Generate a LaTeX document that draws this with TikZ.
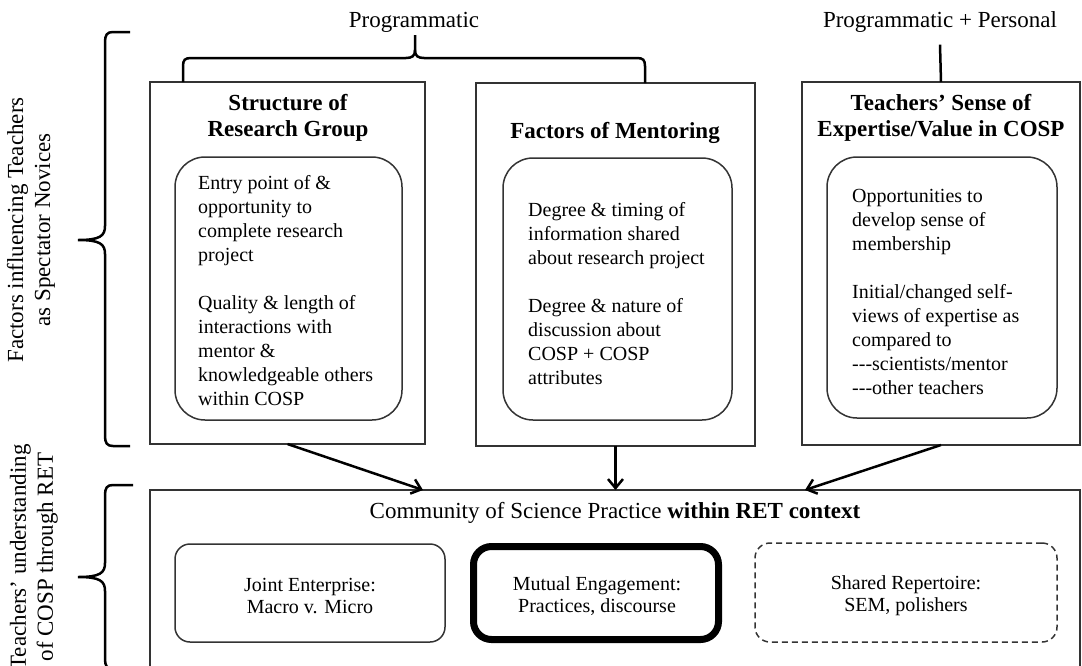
\documentclass[tikz,border=0pt]{standalone}
\usepackage{fontspec}
\setmainfont{Liberation Serif}
\usetikzlibrary{arrows.meta}
\newcommand\hy{\mbox{-}}
\begin{document}
\begin{tikzpicture}[x=1pt,y=-1pt,
  panel/.style={draw=black!80, line width=1.5pt, rectangle, inner sep=0pt, outer sep=0pt},
  listbox/.style={draw=black!80, line width=1.5pt, rectangle, rounded corners=30pt, inner sep=0pt, outer sep=0pt},
  cospbox/.style={draw=black!80, line width=1.5pt, rectangle, rounded corners=15pt, inner sep=0pt},
  cosptext/.style={align=center, inner sep=0pt, font=\fontsize{20}{22}\selectfont},
  ptitle/.style={align=center, inner sep=0pt, font=\bfseries\fontsize{23}{26}\selectfont},
  plist/.style={align=left, anchor=north west, inner sep=0pt, font=\fontsize{20}{24}\selectfont},
  side/.style={rotate=90, align=center, inner sep=0pt, font=\fontsize{23}{27}\selectfont},
  toplabel/.style={inner sep=0pt, font=\fontsize{23}{26}\selectfont},
  brace/.style={draw=black, line width=2.5pt},
  arr/.style={draw=black, line width=2.5pt, -{Straight Barb[length=9pt,width=15pt]}}
]
\useasboundingbox (0,0) rectangle (1082,665);
\clip (0,0) rectangle (1082,665);

% --- three factor panels ---
\node[panel, minimum width=275pt, minimum height=362pt] (b1) at (287.5,263) {};
\node[panel, minimum width=279pt, minimum height=363pt] (b2) at (615.5,264.5) {};
\node[panel, minimum width=278pt, minimum height=363pt] (b3) at (941,263.5) {};

\node[ptitle] (t1) at (288,118) {Structure of\\Research Group};
\node[ptitle] (t2) at (615,133) {Factors of Mentoring};
\node[ptitle] (t3) at (941,118) {Teachers’ Sense of\\Expertise/Value in COSP};

\node[listbox, minimum width=227pt, minimum height=263pt] (l1) at (288.5,288.5) {};
\node[listbox, minimum width=229pt, minimum height=262pt] (l2) at (617.5,289) {};
\node[listbox, minimum width=230pt, minimum height=261pt] (l3) at (942,287.5) {};

\node[plist] (p1) at (198,175) {Entry point of \&\\opportunity to\\complete research\\project\\[24pt]Quality \& length of\\interactions with\\mentor \&\\knowledgeable others\\within COSP};
\node[plist] (p2) at (528,202) {Degree \& timing of\\information shared\\about research project\\[24pt]Degree \& nature of\\discussion about\\COSP + COSP\\attributes};
\node[plist] (p3) at (852,189) {Opportunities to\\develop sense of\\membership\\[24pt]Initial/changed self-\\views of expertise as\\compared to\\\hy\hy\hy scientists/mentor\\\hy\hy\hy other teachers};

% --- labels above the panels ---
\node[toplabel] (prog) at (414,22) {Programmatic};
\node[toplabel] (pp) at (940,22) {Programmatic + Personal};

\coordinate (brL) at ([xshift=33pt]b1.north west);
\coordinate (brR) at ([xshift=169pt]b2.north west);
\coordinate (brM) at (415,35);
\draw[brace] (brL) -- (183,66) .. controls (183,60) and (185,58) .. (191,58)
  -- (406,58) .. controls (412,58) and (415,56) .. (415,50) -- (brM);
\draw[brace] (415,50) .. controls (415,56) and (418,58) .. (424,58)
  -- (637,58) .. controls (643,58) and (645,60) .. (645,66) -- (brR);
\draw[brace] ([yshift=-12pt]pp.south) -- (b3.north);

% --- side braces and their captions ---
\draw[brace] (130,32) -- (113,32) .. controls (107,32) and (105,35) .. (105,42)
  -- (105,226) .. controls (105,236) and (100,240) .. (78,240)
  .. controls (100,240) and (105,244) .. (105,254)
  -- (105,436) .. controls (105,443) and (107,446) .. (113,446) -- (130,446);
\draw[brace] (133,485) -- (113,485) .. controls (107,485) and (105,488) .. (105,495)
  -- (105,563) .. controls (105,573) and (100,577) .. (78,577)
  .. controls (100,577) and (105,581) .. (105,591)
  -- (105,659) .. controls (105,666) and (107,669) .. (113,669) -- (133,669);

\node[side] (s1) at (31,230) {Factors influencing Teachers\\as Spectator Novices};
\node[side] (s2) at (34,557) {Teachers’ understanding\\of COSP through RET};

% --- community of science practice ---
\node[panel, minimum width=930pt, minimum height=210pt] (cosp) at (615,595) {};
\node[inner sep=0pt, font=\fontsize{23}{26}\selectfont] (ct) at (615,513)
  {Community of Science Practice \textbf{within RET context}};

\node[cospbox, minimum width=270pt, minimum height=98pt] (je) at (310,593) {};
\node[cospbox, line width=7pt, draw=black, rounded corners=18pt, minimum width=245pt, minimum height=93pt] (me) at (596,593) {};
\node[cospbox, dashed, dash pattern=on 6pt off 4pt, minimum width=302pt, minimum height=99pt] (sr) at (906,592.5) {};

\node[cosptext] (jet) at (310,596) {Joint Enterprise:\\Macro v. Micro};
\node[cosptext] (met) at (597,596) {Mutual Engagement:\\Practices, discourse};
\node[cosptext] (srt) at (906,596) {Shared Repertoire:\\SEM, polishers};

% --- influences ---
\draw[arr] (b1.south) -- ([xshift=273pt]cosp.north west);
\draw[arr] (b2.south) -- (b2.south |- cosp.north);
\draw[arr] (b3.south) -- ([xshift=655pt]cosp.north west);
\end{tikzpicture}
\end{document}
